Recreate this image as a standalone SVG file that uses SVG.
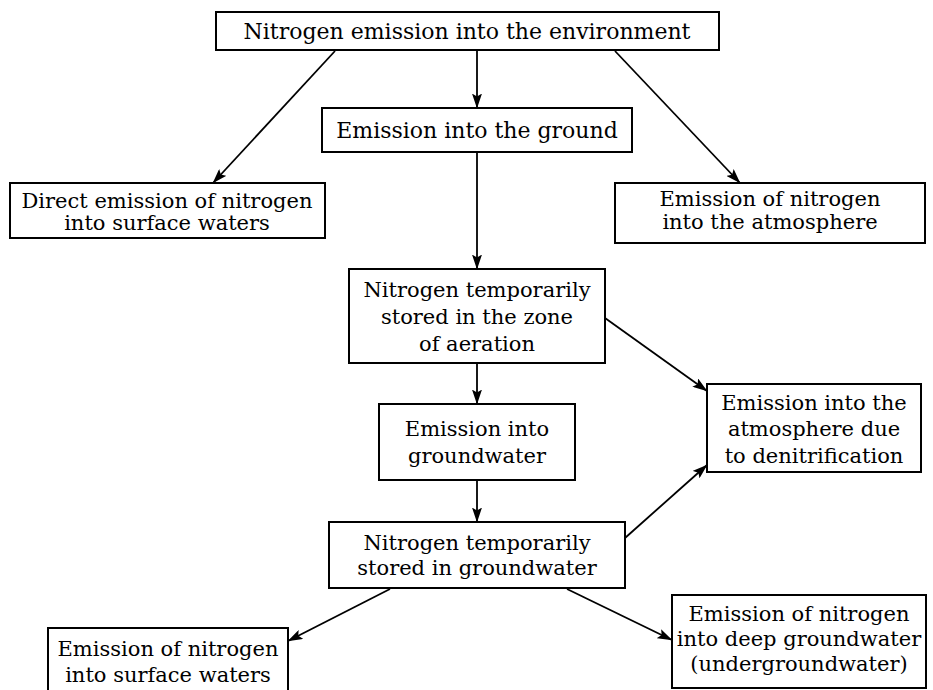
<svg xmlns="http://www.w3.org/2000/svg" width="933" height="690" viewBox="0 0 933 690">
<style>
.box{fill:#fff;stroke:#000;stroke-width:2}
.t{font-family:"DejaVu Serif","Liberation Serif",serif;font-size:21px;fill:#000;text-anchor:middle}
.big{font-size:22px}
.c{stroke:#000;stroke-width:1.8;fill:none;marker-end:url(#ah)}
</style>
<defs>
<marker id="ah" viewBox="0 0 15 10" refX="14.5" refY="5" markerWidth="15" markerHeight="10" markerUnits="userSpaceOnUse" orient="auto">
<path d="M0,0 L15,5 L0,10 L3,5 Z" fill="#000"/>
</marker>
</defs>
<rect width="933" height="690" fill="#fff"/>
<g id="connectors">
<line class="c" x1="477" y1="51" x2="477" y2="108"/>
<line class="c" x1="335" y1="51" x2="213" y2="183"/>
<line class="c" x1="615" y1="51" x2="740" y2="183"/>
<line class="c" x1="477" y1="152" x2="477" y2="269"/>
<line class="c" x1="477" y1="363" x2="477" y2="404"/>
<line class="c" x1="605" y1="318" x2="707" y2="391"/>
<line class="c" x1="477" y1="480" x2="477" y2="522"/>
<line class="c" x1="625" y1="538" x2="707" y2="465"/>
<line class="c" x1="390" y1="589" x2="288" y2="641"/>
<line class="c" x1="567" y1="589" x2="672" y2="640"/>
</g>
<g id="n1"><rect class="box" x="216" y="12" width="503" height="38"/><text class="t big" x="467" y="39">Nitrogen emission into the environment</text></g>
<g id="n2"><rect class="box" x="322" y="108" width="310" height="44"/><text class="t big" x="477" y="138">Emission into the ground</text></g>
<g id="n3"><rect class="box" x="10" y="183" width="315" height="55"/><text class="t" x="167" y="208">Direct emission of nitrogen</text><text class="t" x="167" y="230">into surface waters</text></g>
<g id="n4"><rect class="box" x="615" y="183" width="310" height="60"/><text class="t" x="770" y="206">Emission of nitrogen</text><text class="t" x="770" y="229">into the atmosphere</text></g>
<g id="n5"><rect class="box" x="349" y="269" width="256" height="94"/><text class="t" x="477" y="297">Nitrogen temporarily</text><text class="t" x="477" y="324">stored in the zone</text><text class="t" x="477" y="351">of aeration</text></g>
<g id="n6"><rect class="box" x="379" y="404" width="196" height="76"/><text class="t" x="477" y="436">Emission into</text><text class="t" x="477" y="463">groundwater</text></g>
<g id="n7"><rect class="box" x="707" y="384" width="214" height="88"/><text class="t" x="814" y="410">Emission into the</text><text class="t" x="814" y="436">atmosphere due</text><text class="t" x="814" y="463">to denitrification</text></g>
<g id="n8"><rect class="box" x="329" y="522" width="296" height="66"/><text class="t" x="477" y="550">Nitrogen temporarily</text><text class="t" x="477" y="575">stored in groundwater</text></g>
<g id="n9"><rect class="box" x="48" y="628" width="240" height="72"/><text class="t" x="168" y="656">Emission of nitrogen</text><text class="t" x="168" y="682">into surface waters</text></g>
<g id="n10"><rect class="box" x="672" y="595" width="254" height="93"/><text class="t" x="799" y="621">Emission of nitrogen</text><text class="t" x="799" y="646">into deep groundwater</text><text class="t" x="799" y="671">(undergroundwater)</text></g>
</svg>
